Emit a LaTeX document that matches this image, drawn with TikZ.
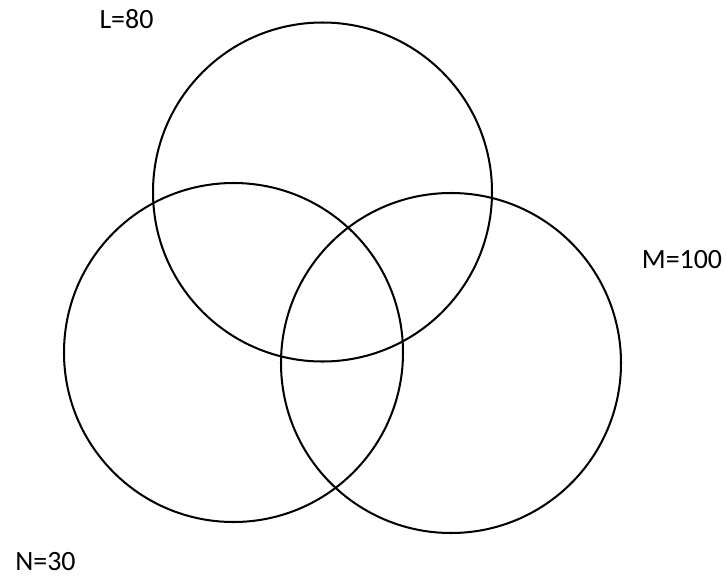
\documentclass[tikz,border=0pt]{standalone}
\usepackage{fontspec}
\setmainfont{Carlito}
\usepackage{tikz}

\tikzset{
  setcircle/.style={draw, line width=1.15pt},
  setlabel/.style={inner sep=0pt, font=\fontsize{15.9}{19}\selectfont}
}

\begin{document}
\begin{tikzpicture}[x=0.02cm, y=-0.02cm]
\useasboundingbox (0,0) rectangle (727,575);
% the three sets
\node[setcircle, circle, minimum size=339*0.02cm, inner sep=0pt] (L) at (322.5,192) {};
\node[setcircle, circle, minimum size=339*0.02cm, inner sep=0pt] (N) at (233.5,352.5) {};
\node[setcircle, circle, minimum size=340*0.02cm, inner sep=0pt] (M) at (451,363) {};
% labels
\node[setlabel] (Llab) at (126.5,19.5) {L=80};
\node[setlabel] (Mlab) at (682,259.5) {M=100};
\node[setlabel] (Nlab) at (45.5,561.5) {N=30};
\end{tikzpicture}
\end{document}
